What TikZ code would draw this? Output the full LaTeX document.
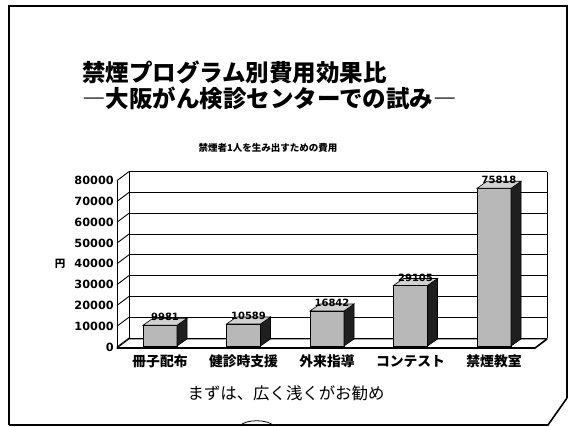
\documentclass[tikz,border=0pt]{standalone}
\usepackage{fontspec}
\newfontfamily\jp{Noto Sans CJK JP}
\newfontfamily\numf{DejaVu Sans}
\begin{document}
\begin{tikzpicture}[x=1pt,y=-1pt,
  frame/.style={line width=1.6pt,black},
  grid/.style={line width=0.9pt,black},
  front/.style={draw=black,line width=0.6pt,fill=black!28},
  side/.style={draw=black,line width=0.6pt,fill=black!88},
  topf/.style={draw=black,line width=0.6pt,fill=black!18},
  ttl/.style={font=\jp\bfseries\fontsize{23.5}{26}\selectfont,anchor=west,inner sep=0pt},
  axlab/.style={font=\numf\bfseries\fontsize{11.3}{12}\selectfont,anchor=east,inner sep=0pt},
  vallab/.style={font=\numf\bfseries\fontsize{10}{12}\selectfont,inner sep=0pt},
  catlab/.style={font=\jp\bfseries\fontsize{13.8}{15}\selectfont,inner sep=0pt},
]
\useasboundingbox (0,0) rectangle (572,427);
\fill[white] (0,0) rectangle (572,427);
% slide frame
\draw[frame] (9,425) -- (9,6) -- (567,6) -- (567,398);
\draw[frame] (9,425) -- (548,425) -- (567,398);
\draw[line width=0.8pt] (240,426) .. controls (245,419) and (268,419) .. (274,426);
% titles
\node[ttl] (t1) at (82,72) {禁煙プログラム別費用効果比};
\node[ttl] (t2) at (82,98) {―大阪がん検診センターでの試み―};
\node[font=\jp\bfseries\fontsize{9.5}{11}\selectfont,inner sep=0pt] (ct) at (268,148) {禁煙者1人を生み出すための費用};
\node[font=\jp\bfseries\fontsize{10.5}{11}\selectfont,inner sep=0pt] (yen) at (60,264) {円};
% chart walls and grid
\foreach \k/\val in {0/0,1/10000,2/20000,3/30000,4/40000,5/50000,6/60000,7/70000,8/80000}{
  \pgfmathsetmacro\yb{338-\k*20.8}
  \pgfmathsetmacro\yf{347-\k*20.8}
  \draw[grid] (129,\yb) -- (547,\yb);
  \draw[grid] (117,\yf) -- (129,\yb);
  \node[axlab] (ax\k) at (114,\yf) {\val};
}
\draw[grid] (117,347) -- (117,180.6);
\draw[grid] (129,338) -- (129,171.6);
\draw[grid] (547,338) -- (547,171.6);
% floor
\draw[line width=0.8pt,fill=white] (117,348) -- (535,348) -- (547,339) -- (129,339) -- cycle;
\draw[line width=1.6pt] (117,348) -- (535,348) -- (547,339);
% bars
\foreach \c/\h/\v/\lab [count=\i] in {160/20.76/9981/冊子配布, 243.5/22.03/10589/健診時支援, 327/35.03/16842/外来指導, 410.5/60.54/29105/コンテスト, 494/157.70/75818/禁煙教室}{
  \pgfmathsetmacro\t{346-\h}
  \pgfmathsetmacro\tb{\t-7}
  \draw[front] (\c-17,346) rectangle (\c+17,\t);
  \draw[side] (\c+17,346) -- (\c+27,339) -- (\c+27,\tb) -- (\c+17,\t) -- cycle;
  \draw[topf] (\c-17,\t) -- (\c-7,\tb) -- (\c+27,\tb) -- (\c+17,\t) -- cycle;
  \node[vallab] (v\i) at (\c+5,\t-8) {\v};
  \node[catlab] (c\i) at (\c,361) {\lab};
}
% conclusion
\node[font=\jp\fontsize{16.4}{18}\selectfont,inner sep=0pt] (concl) at (286,393) {まずは、広く浅くがお勧め};
\end{tikzpicture}
\end{document}
